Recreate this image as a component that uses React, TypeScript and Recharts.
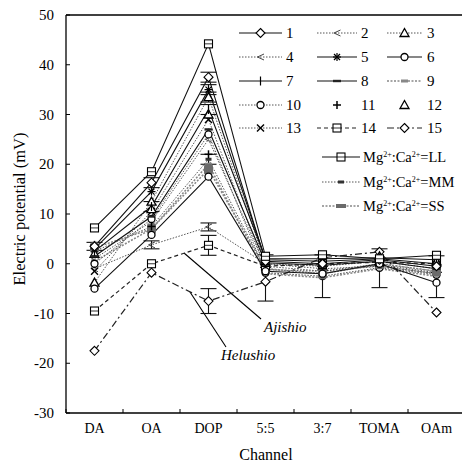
import React from 'react';
import { LineChart, Line, XAxis, YAxis, ErrorBar, ReferenceLine, Legend, Customized } from 'recharts';

// Taste-sensor channels along the x axis
const channels = ['DA', 'OA', 'DOP', '5:5', '3:7', 'TOMA', 'OAm'];
const yTicks = [-30, -20, -10, 0, 10, 20, 30, 40, 50];

// Electric potential (mV) per sample, one value per channel
const sample1 = [3.5, 16.3, 37.5, 0.5, 0.0, 0.8, -0.5];
const sample2 = [1.0, 8.5, 25.0, -0.5, -1.5, 0.0, -1.5];
const sample3 = [-3.8, 12.5, 33.5, 0.0, -0.5, 0.5, -1.0];
const sample4 = [-1.0, 3.8, 7.4, 0.0, -1.0, -0.5, -2.0];
const sample5 = [3.0, 14.5, 35.0, 0.8, 0.5, 1.0, 0.0];
const sample6 = [-5.0, 5.8, 17.5, -1.5, -2.0, 0.0, -3.8];
const sample7 = [2.5, 11.5, 31.0, 1.0, 1.0, 1.2, 0.8];
const sample8 = [1.5, 9.5, 27.0, 0.2, -0.3, 0.5, -1.0];
const sample9 = [0.5, 7.0, 20.0, -2.0, -2.8, -1.0, -2.5];
const sample10 = [0.0, 9.0, 26.0, -1.8, -2.5, -0.8, -2.2];
const sample11 = [3.8, 7.5, 22.0, -0.5, -1.0, 0.5, -0.5];
const sample12 = [2.0, 11.0, 30.0, 0.5, 0.2, 1.5, 0.5];
const sample13 = [-1.5, 10.5, 29.0, -1.0, -2.0, -0.2, -1.8];
const sample14 = [-9.5, 0.0, 3.7, -0.5, 0.0, 0.3, 0.0];
const sample15 = [-17.5, -1.8, -7.5, -3.6, 1.2, 2.4, -9.8];
const ratioLL = [7.2, 18.5, 44.2, 1.5, 1.8, 1.0, 1.7];
const ratioMM = [2.5, 7.5, 21.0, -1.2, -1.5, -0.5, -2.0];
const ratioSS = [3.2, 7.0, 19.0, -1.0, -2.0, 0.0, -1.5];

// Standard deviations ([lower, upper] where asymmetric)
const err1 = [0.8, 1.0, 1.0, null, null, null, null];
const err3 = [null, null, 1.0, null, null, null, null];
const err4 = [null, 0.8, 0.8, null, null, null, null];
const err5 = [null, null, 1.0, null, null, null, null];
const err7 = [null, 1.0, 1.0, null, null, null, null];
const err14 = [null, null, 2.0, null, null, null, null];
const err15 = [null, null, 2.5, null, null, null, null];
const errMM = [null, null, 1.0, [6.3, 3.0], [5.3, 3.3], [4.3, 3.5], [4.8, 3.6]];

const FONT = "'Liberation Serif', 'Times New Roman', serif";

type LineKind = 'solid' | 'dotted' | 'dashed' | 'dashdot' | 'graydot' | 'none';
type MarkerKind =
  | 'square' | 'diamond' | 'triangle' | 'chevron' | 'asterisk' | 'circle' | 'tick'
  | 'plus' | 'bar' | 'xsmall' | 'x' | 'mm' | 'ss';

interface SeriesDef {
  key: string;
  label: string;
  values: number[];
  err?: (number | number[] | null)[];
  line: LineKind;
  marker: MarkerKind;
}

const series: SeriesDef[] = [
  { key: 's2', label: '2', values: sample2, line: 'dotted', marker: 'chevron' },
  { key: 's4', label: '4', values: sample4, err: err4, line: 'dotted', marker: 'chevron' },
  { key: 's9', label: '9', values: sample9, line: 'graydot', marker: 'xsmall' },
  { key: 's10', label: '10', values: sample10, line: 'dotted', marker: 'circle' },
  { key: 's13', label: '13', values: sample13, line: 'dotted', marker: 'x' },
  { key: 's3', label: '3', values: sample3, err: err3, line: 'dotted', marker: 'triangle' },
  { key: 'mm', label: 'MM', values: ratioMM, err: errMM, line: 'dotted', marker: 'mm' },
  { key: 'ss', label: 'SS', values: ratioSS, line: 'graydot', marker: 'ss' },
  { key: 's14', label: '14', values: sample14, err: err14, line: 'dashed', marker: 'square' },
  { key: 's15', label: '15', values: sample15, err: err15, line: 'dashdot', marker: 'diamond' },
  { key: 's11', label: '11', values: sample11, line: 'none', marker: 'plus' },
  { key: 's12', label: '12', values: sample12, line: 'none', marker: 'triangle' },
  { key: 's6', label: '6', values: sample6, line: 'solid', marker: 'circle' },
  { key: 's8', label: '8', values: sample8, line: 'solid', marker: 'bar' },
  { key: 's7', label: '7', values: sample7, err: err7, line: 'solid', marker: 'tick' },
  { key: 's5', label: '5', values: sample5, err: err5, line: 'solid', marker: 'asterisk' },
  { key: 's1', label: '1', values: sample1, err: err1, line: 'solid', marker: 'diamond' },
  { key: 'll', label: 'LL', values: ratioLL, line: 'solid', marker: 'square' },
];

const lineStyles: Record<LineKind, { stroke: string; dash?: string; width: number }> = {
  solid: { stroke: '#111', width: 1.1 },
  dotted: { stroke: '#555', dash: '1.5 1.5', width: 1 },
  graydot: { stroke: '#888', dash: '2 1.5', width: 1.6 },
  dashed: { stroke: '#222', dash: '4 3', width: 1.2 },
  dashdot: { stroke: '#222', dash: '7 3 2 3', width: 1.2 },
  none: { stroke: 'none', width: 0 },
};

const rows = channels.map((channel, i) => {
  const row: Record<string, unknown> = { channel };
  series.forEach((s) => {
    row[s.key] = s.values[i];
    if (s.err) row[`${s.key}Err`] = s.err[i];
  });
  return row;
});

function Marker({ kind, cx, cy }: { kind: MarkerKind; cx: number; cy: number }) {
  if (cx == null || cy == null || isNaN(cx) || isNaN(cy)) return <g />;
  switch (kind) {
    case 'square':
      return (
        <g>
          <rect x={cx - 4} y={cy - 4} width={8} height={8} fill="#fff" stroke="#000" strokeWidth={1.1} />
          <line x1={cx - 4} x2={cx + 4} y1={cy} y2={cy} stroke="#000" strokeWidth={0.8} />
        </g>
      );
    case 'diamond':
      return (
        <polygon
          points={`${cx},${cy - 4.5} ${cx + 4.5},${cy} ${cx},${cy + 4.5} ${cx - 4.5},${cy}`}
          fill="#fff" stroke="#000" strokeWidth={1.1}
        />
      );
    case 'triangle':
      return (
        <polygon
          points={`${cx},${cy - 4.5} ${cx + 4.5},${cy + 3.5} ${cx - 4.5},${cy + 3.5}`}
          fill="#fff" stroke="#000" strokeWidth={1.3}
        />
      );
    case 'chevron':
      return <path d={`M${cx + 3.5},${cy - 3} L${cx - 3},${cy} L${cx + 3.5},${cy + 3}`} fill="none" stroke="#444" strokeWidth={1} />;
    case 'asterisk':
      return (
        <g stroke="#000" strokeWidth={1.2}>
          <line x1={cx - 4} x2={cx + 4} y1={cy} y2={cy} />
          <line x1={cx - 3} x2={cx + 3} y1={cy - 3} y2={cy + 3} />
          <line x1={cx - 3} x2={cx + 3} y1={cy + 3} y2={cy - 3} />
          <line x1={cx} x2={cx} y1={cy - 4} y2={cy + 4} />
        </g>
      );
    case 'circle':
      return <circle cx={cx} cy={cy} r={3.5} fill="#fff" stroke="#000" strokeWidth={1.3} />;
    case 'tick':
      return <line x1={cx} x2={cx} y1={cy - 4.5} y2={cy + 4.5} stroke="#000" strokeWidth={1.2} />;
    case 'plus':
      return (
        <g stroke="#000" strokeWidth={1.5}>
          <line x1={cx - 4} x2={cx + 4} y1={cy} y2={cy} />
          <line x1={cx} x2={cx} y1={cy - 4} y2={cy + 4} />
        </g>
      );
    case 'bar':
      return <rect x={cx - 4} y={cy - 1.2} width={8} height={2.4} fill="#222" />;
    case 'xsmall':
      return <rect x={cx - 3.5} y={cy - 1.5} width={7} height={3} fill="#888" />;
    case 'x':
      return (
        <g stroke="#000" strokeWidth={1.4}>
          <line x1={cx - 3.5} x2={cx + 3.5} y1={cy - 3.5} y2={cy + 3.5} />
          <line x1={cx - 3.5} x2={cx + 3.5} y1={cy + 3.5} y2={cy - 3.5} />
        </g>
      );
    case 'mm':
      return <rect x={cx - 3} y={cy - 1.5} width={6} height={3} fill="#333" />;
    case 'ss':
      return <rect x={cx - 4.5} y={cy - 5.5} width={9} height={11} rx={3} fill="#6a6a6a" />;
    default:
      return <g />;
  }
}

const XTick = (props: any) => {
  const { x, y, payload } = props;
  return (
    <g>
      <line x1={x - 28.5} x2={x - 28.5} y1={y} y2={y - 4} stroke="#000" strokeWidth={1} />
      <text x={x} y={y + 20} textAnchor="middle" fontSize={14} fontFamily={FONT} fill="#000">
        {payload.value}
      </text>
    </g>
  );
};

const YTick = (props: any) => {
  const { x, y, payload } = props;
  return (
    <g>
      <line x1={x + 12} x2={x + 16} y1={y} y2={y} stroke="#000" strokeWidth={1} />
      <text x={x} y={y + 5} textAnchor="end" fontSize={15} fontFamily={FONT} fill="#000">
        {payload.value}
      </text>
    </g>
  );
};

const legendGrid: { id: string; marker: MarkerKind; line: LineKind }[][] = [
  [{ id: '1', marker: 'diamond', line: 'solid' }, { id: '2', marker: 'chevron', line: 'dotted' }, { id: '3', marker: 'triangle', line: 'dotted' }],
  [{ id: '4', marker: 'chevron', line: 'dotted' }, { id: '5', marker: 'asterisk', line: 'solid' }, { id: '6', marker: 'circle', line: 'solid' }],
  [{ id: '7', marker: 'tick', line: 'solid' }, { id: '8', marker: 'bar', line: 'solid' }, { id: '9', marker: 'xsmall', line: 'graydot' }],
  [{ id: '10', marker: 'circle', line: 'dotted' }, { id: '11', marker: 'plus', line: 'none' }, { id: '12', marker: 'triangle', line: 'none' }],
  [{ id: '13', marker: 'x', line: 'dotted' }, { id: '14', marker: 'square', line: 'dashed' }, { id: '15', marker: 'diamond', line: 'dashdot' }],
];
const legendRowsY = [33, 57, 81, 105, 128];
const legendCols = [
  { x1: 239, x2: 282, tx: 286 },
  { x1: 317, x2: 357, tx: 361 },
  { x1: 387, x2: 422, tx: 427 },
];
const ratioLegend: { id: string; marker: MarkerKind; line: LineKind; y: number }[] = [
  { id: 'LL', marker: 'square', line: 'solid', y: 157 },
  { id: 'MM', marker: 'mm', line: 'dotted', y: 182 },
  { id: 'SS', marker: 'ss', line: 'graydot', y: 206 },
];

const LegendSwatch = ({ x1, x2, y, line, marker }: { x1: number; x2: number; y: number; line: LineKind; marker: MarkerKind }) => {
  const st = lineStyles[line];
  const cx = (x1 + x2) / 2;
  return (
    <g>
      {line !== 'none' && (
        <line x1={x1} x2={x2} y1={y} y2={y} stroke={st.stroke} strokeDasharray={st.dash} strokeWidth={st.width} />
      )}
      <Marker kind={marker === 'ss' ? 'bar' : marker} cx={cx} cy={y} />
      {marker === 'ss' && <rect x={cx - 5} y={y - 2} width={10} height={4} fill="#6a6a6a" />}
    </g>
  );
};

const renderLegend = () => (
  <svg width={232} height={205} viewBox="230 15 232 205" style={{ display: 'block' }}>
    {legendGrid.map((row, r) =>
      row.map((item, c) => (
        <g key={item.id}>
          <LegendSwatch x1={legendCols[c].x1} x2={legendCols[c].x2} y={legendRowsY[r]} line={item.line} marker={item.marker} />
          <text x={legendCols[c].tx} y={legendRowsY[r] + 5} fontSize={15} fontFamily={FONT} fill="#000">
            {item.id}
          </text>
        </g>
      )),
    )}
    {ratioLegend.map((item) => (
      <g key={item.id}>
        <LegendSwatch x1={322} x2={360} y={item.y} line={item.line} marker={item.marker} />
        <text x={363} y={item.y + 5} fontSize={14.5} fontFamily={FONT} fill="#000">
          Mg<tspan dy={-5} fontSize={8}>2+</tspan>
          <tspan dy={5}>:Ca</tspan>
          <tspan dy={-5} fontSize={8}>2+</tspan>
          <tspan dy={5}>={item.id}</tspan>
        </text>
      </g>
    ))}
  </svg>
);

// Callouts for the two commercial seasonings and the axis titles
const Annotations = () => (
  <g fontFamily={FONT} fill="#000">
    <line x1={184} y1={253} x2={261} y2={319} stroke="#000" strokeWidth={1.1} />
    <text x={264} y={332} fontSize={15} fontStyle="italic">Ajishio</text>
    <line x1={190} y1={292} x2={226} y2={347} stroke="#000" strokeWidth={1.1} />
    <text x={221} y={360} fontSize={15} fontStyle="italic">Helushio</text>
    <text x={266} y={460} fontSize={16} textAnchor="middle">Channel</text>
    <text transform="translate(25,209) rotate(-90)" fontSize={16.5} textAnchor="middle">
      Electric potential (mV)
    </text>
  </g>
);

export default function App() {
  return (
    <div style={{ position: 'absolute', left: 0, top: 0, width: 462, height: 464, background: '#fff' }}>
      <LineChart width={462} height={464} data={rows} margin={{ top: 15, right: 0, bottom: 0, left: 0 }}>
        <XAxis
          dataKey="channel"
          height={51}
          padding={{ left: 28.5, right: 25.5 }}
          axisLine={{ stroke: '#000', strokeWidth: 1.3 }}
          tickLine={false}
          tickSize={0}
          tickMargin={0}
          tick={<XTick />}
          interval={0}
        />
        <YAxis
          type="number"
          domain={[-30, 50]}
          ticks={yTicks}
          width={66}
          axisLine={{ stroke: '#000', strokeWidth: 1.3 }}
          tickLine={false}
          tickSize={0}
          tickMargin={12}
          tick={<YTick />}
          interval={0}
        />
        <ReferenceLine y={50} stroke="#000" strokeWidth={1.3} />
        {series.map((s) => {
          const st = lineStyles[s.line];
          return (
            <Line
              key={s.key}
              dataKey={s.key}
              name={s.label}
              type="linear"
              stroke={st.stroke}
              strokeDasharray={st.dash}
              strokeWidth={st.width}
              isAnimationActive={false}
              activeDot={false}
              legendType="none"
              dot={(p: any) => <Marker key={`${s.key}-${p.index}`} kind={s.marker} cx={p.cx} cy={p.cy} />}
            >
              {s.err && (
                <ErrorBar dataKey={`${s.key}Err`} width={8} stroke="#111" strokeWidth={1.1} direction="y" isAnimationActive={false} />
              )}
            </Line>
          );
        })}
        <Customized component={Annotations} />
        <Legend
          layout="horizontal"
          verticalAlign="middle"
          align="center"
          content={renderLegend}
          wrapperStyle={{ left: 230, top: 15, width: 232, height: 205 }}
        />
      </LineChart>
    </div>
  );
}
